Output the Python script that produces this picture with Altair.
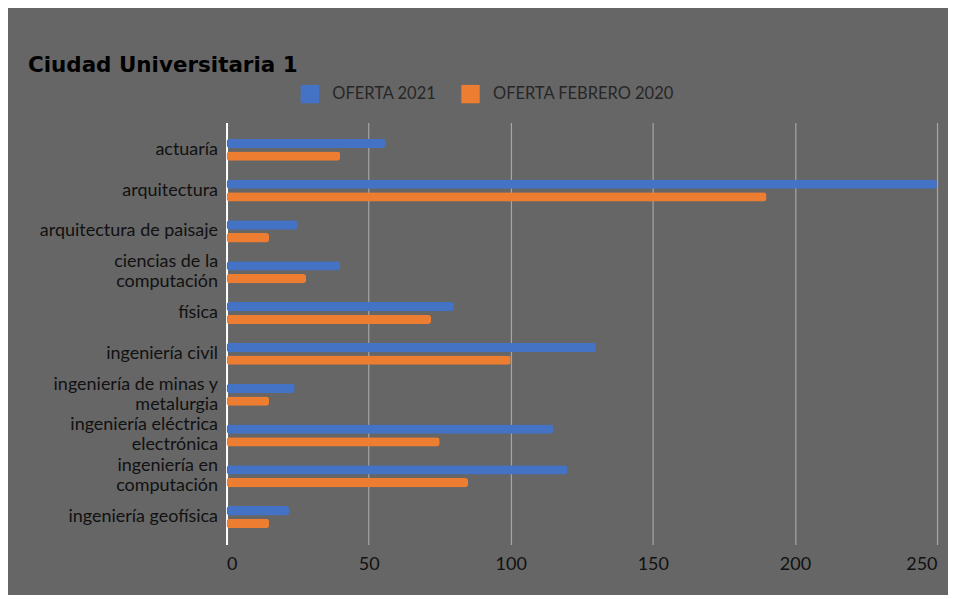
import altair as alt
import pandas as pd

categories = [
    "actuaría",
    "arquitectura",
    "arquitectura de paisaje",
    "ciencias de la|computación",
    "física",
    "ingeniería civil",
    "ingeniería de minas y|metalurgia",
    "ingeniería eléctrica|electrónica",
    "ingeniería en|computación",
    "ingeniería geofísica",
]
oferta_2021 = [56, 250, 25, 40, 80, 130, 24, 115, 120, 22]
oferta_feb_2020 = [40, 190, 15, 28, 72, 100, 15, 75, 85, 15]
series = ["OFERTA 2021", "OFERTA FEBRERO 2020"]
colors = ["#4472C4", "#ED7D31"]
x_ticks = [0, 50, 100, 150, 200, 250]

rows = []
for c, a, b in zip(categories, oferta_2021, oferta_feb_2020):
    rows.append({"carrera": c, "serie": series[0], "valor": a})
    rows.append({"carrera": c, "serie": series[1], "valor": b})
df = pd.DataFrame(rows)

FONT = "Lato"
TXT = "#111111"

chart = (
    alt.Chart(df)
    .mark_bar(cornerRadius=3)
    .encode(
        y=alt.Y(
            "carrera:N",
            sort=categories,
            scale=alt.Scale(paddingInner=0.46, paddingOuter=0.4),
            axis=alt.Axis(
                title=None,
                labelExpr="split(datum.label, '|')",
                labelFont=FONT,
                labelFontSize=18,
                labelColor=TXT,
                labelPadding=9,
                labelLineHeight=20,
                labelOffset={"condition": {"test": "indexof(datum.label, '|') >= 0", "value": -10}, "value": 0},
                ticks=False,
                domain=True,
                domainColor="#FFFFFF",
                domainWidth=2,
                grid=False,
                labelLimit=400,
            ),
        ),
        yOffset=alt.YOffset("serie:N", sort=series, scale=alt.Scale(paddingInner=0.27)),
        x=alt.X(
            "valor:Q",
            scale=alt.Scale(domain=[0, 250], nice=False),
            axis=alt.Axis(
                title=None,
                values=x_ticks,
                labelFont=FONT,
                labelFontSize=18,
                labelColor=TXT,
                labelPadding=11,
                ticks=False,
                domain=False,
                grid=True,
                gridColor="#A6A6A6",
                gridWidth=1.2,
            ),
        ),
        color=alt.Color(
            "serie:N",
            sort=series,
            scale=alt.Scale(domain=series, range=colors),
            legend=alt.Legend(
                title=None,
                orient="none",
                direction="horizontal",
                legendX=74,
                legendY=-38,
                symbolType="square",
                symbolSize=340,
                symbolStrokeWidth=0,
                labelFont=FONT,
                labelFontSize=16.5,
                labelColor="#262626",
                labelOffset=13,
                labelLimit=400,
                columnPadding=24,
            ),
        ),
    )
    .properties(
        width=712,
        height=423,
        background="#666666",
        padding={"left": 219, "top": 114, "right": 11, "bottom": 50},
        autosize=alt.AutoSizeParams(type="none"),
        title=alt.TitleParams(
            "Ciudad Universitaria 1",
            anchor="start",
            frame="group",
            dx=-199,
            font="DejaVu Sans",
            fontWeight="bold",
            fontSize=21.5,
            color="#000000",
            offset=8,
        ),
    )
    .configure_view(stroke=None)
)

chart.save("out.html", embed_options={"renderer": "svg", "actions": False})
